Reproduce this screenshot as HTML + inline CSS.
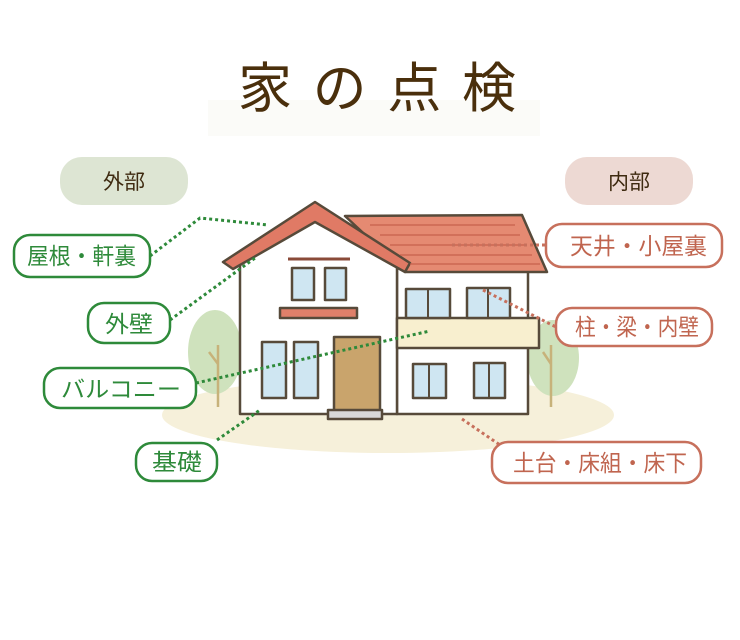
<!DOCTYPE html>
<html><head><meta charset="utf-8"><style>
html,body{margin:0;padding:0;background:#fff;width:740px;height:640px;overflow:hidden}
svg text{font-family:"Liberation Sans","Noto Sans CJK JP",sans-serif}
</style></head><body>
<svg width="740" height="640" viewBox="0 0 740 640" xmlns="http://www.w3.org/2000/svg">
<rect x="208" y="100" width="332" height="36" fill="#fbfbf8"/>
<text x="238" y="107" font-size="54" fill="#4a2f0c" textLength="278" lengthAdjust="spacing">家の点検</text>
<rect x="60" y="157" width="128" height="48" rx="22" fill="#dde5d3"/>
<text x="124" y="189" text-anchor="middle" font-size="21" fill="#3e2a10">外部</text>
<rect x="565" y="157" width="128" height="48" rx="22" fill="#edd9d3"/>
<text x="629" y="189" text-anchor="middle" font-size="21" fill="#3e2a10">内部</text>
<ellipse cx="388" cy="415" rx="226" ry="38" fill="#f6f0da"/>
<ellipse cx="215" cy="352" rx="27" ry="42" fill="#cfe2bd"/>
<ellipse cx="553" cy="358" rx="26" ry="38" fill="#cfe2bd"/>
<line x1="218" y1="345" x2="218" y2="407" stroke="#c7b27a" stroke-width="2.5"/>
<line x1="209" y1="352" x2="218" y2="364" stroke="#c7b27a" stroke-width="2.5"/>
<line x1="551" y1="345" x2="551" y2="407" stroke="#c7b27a" stroke-width="2.5"/>
<line x1="543" y1="352" x2="551" y2="364" stroke="#c7b27a" stroke-width="2.5"/>
<g stroke="#574a3a" stroke-width="2.5" stroke-linejoin="round">
<rect x="397" y="268" width="131" height="146" fill="#fff"/>
<polygon points="240,255 315,210 397,262 397,414 240,414" fill="#fff"/>
<polygon points="345,216 522,215 547,272 405,272" fill="#e58a72"/>
<polygon points="223,262 315,202 410,263 405,272 315,222 233,269" fill="#e07a65"/>
<rect x="397" y="318" width="142" height="30" fill="#f8efcf"/>
<rect x="406" y="289" width="44" height="29" fill="#cfe6f2"/>
<rect x="467" y="288" width="43" height="30" fill="#cfe6f2"/>
<rect x="292" y="268" width="22" height="32" fill="#cfe6f2"/>
<rect x="325" y="268" width="21" height="32" fill="#cfe6f2"/>
<rect x="262" y="342" width="24" height="56" fill="#cfe6f2"/>
<rect x="294" y="342" width="24" height="56" fill="#cfe6f2"/>
<rect x="413" y="364" width="33" height="34" fill="#cfe6f2"/>
<rect x="474" y="363" width="31" height="35" fill="#cfe6f2"/>
<rect x="334" y="337" width="46" height="75" fill="#c9a46c"/>
<rect x="328" y="410" width="54" height="9" fill="#d8d8d8"/>
<rect x="280" y="308" width="77" height="10" fill="#e0806a"/>
</g>
<line x1="428" y1="289" x2="428" y2="318" stroke="#574a3a" stroke-width="2"/>
<line x1="488" y1="288" x2="488" y2="318" stroke="#574a3a" stroke-width="2"/>
<line x1="429" y1="364" x2="429" y2="398" stroke="#574a3a" stroke-width="2"/>
<line x1="489" y1="363" x2="489" y2="398" stroke="#574a3a" stroke-width="2"/>
<line x1="288" y1="259" x2="350" y2="259" stroke="#8a4a38" stroke-width="3"/>
<g stroke="#c7614c" stroke-width="1.2">
<line x1="370" y1="225" x2="515" y2="225"/><line x1="380" y1="235" x2="520" y2="235"/><line x1="390" y1="245" x2="525" y2="245"/><line x1="400" y1="255" x2="532" y2="255"/><line x1="410" y1="264" x2="540" y2="264"/>
</g>
<g fill="none" stroke-width="3" stroke-dasharray="3 3">
<g stroke="#2e8a3a">
<polyline points="150,256 200,218 268,225"/>
<line x1="170" y1="320" x2="255" y2="258"/>
<line x1="196" y1="383" x2="430" y2="331"/>
<line x1="217" y1="440" x2="260" y2="410"/>
</g>
<g stroke="#c7705c">
<line x1="452" y1="245" x2="546" y2="245"/>
<line x1="483" y1="290" x2="556" y2="327"/>
<line x1="462" y1="419" x2="500" y2="445"/>
</g>
</g>
<g fill="#fff" stroke-width="2.5">
<g stroke="#2e8a3a">
<rect x="14" y="235" width="136" height="42" rx="16"/>
<rect x="88" y="303" width="82" height="40" rx="16"/>
<rect x="44" y="368" width="152" height="40" rx="16"/>
<rect x="136" y="443" width="81" height="38" rx="16"/>
</g>
<g stroke="#c7705c">
<rect x="546" y="224" width="176" height="43" rx="16"/>
<rect x="556" y="308" width="156" height="38" rx="16"/>
<rect x="492" y="442" width="209" height="41" rx="16"/>
</g>
</g>
<g font-size="23">
<g fill="#2e8a3a">
<text x="27" y="264" textLength="109" lengthAdjust="spacingAndGlyphs">屋根・軒裏</text>
<text x="105" y="332" textLength="48" lengthAdjust="spacingAndGlyphs">外壁</text>
<text x="61" y="397" textLength="120" lengthAdjust="spacingAndGlyphs">バルコニー</text>
<text x="152" y="470" textLength="50" lengthAdjust="spacingAndGlyphs">基礎</text>
</g>
<g fill="#c0654f">
<text x="570" y="254" textLength="137" lengthAdjust="spacingAndGlyphs">天井・小屋裏</text>
<text x="575" y="335" textLength="124" lengthAdjust="spacingAndGlyphs">柱・梁・内壁</text>
<text x="513" y="471" textLength="174" lengthAdjust="spacingAndGlyphs">土台・床組・床下</text>
</g>
</g>
</svg>
</body></html>
